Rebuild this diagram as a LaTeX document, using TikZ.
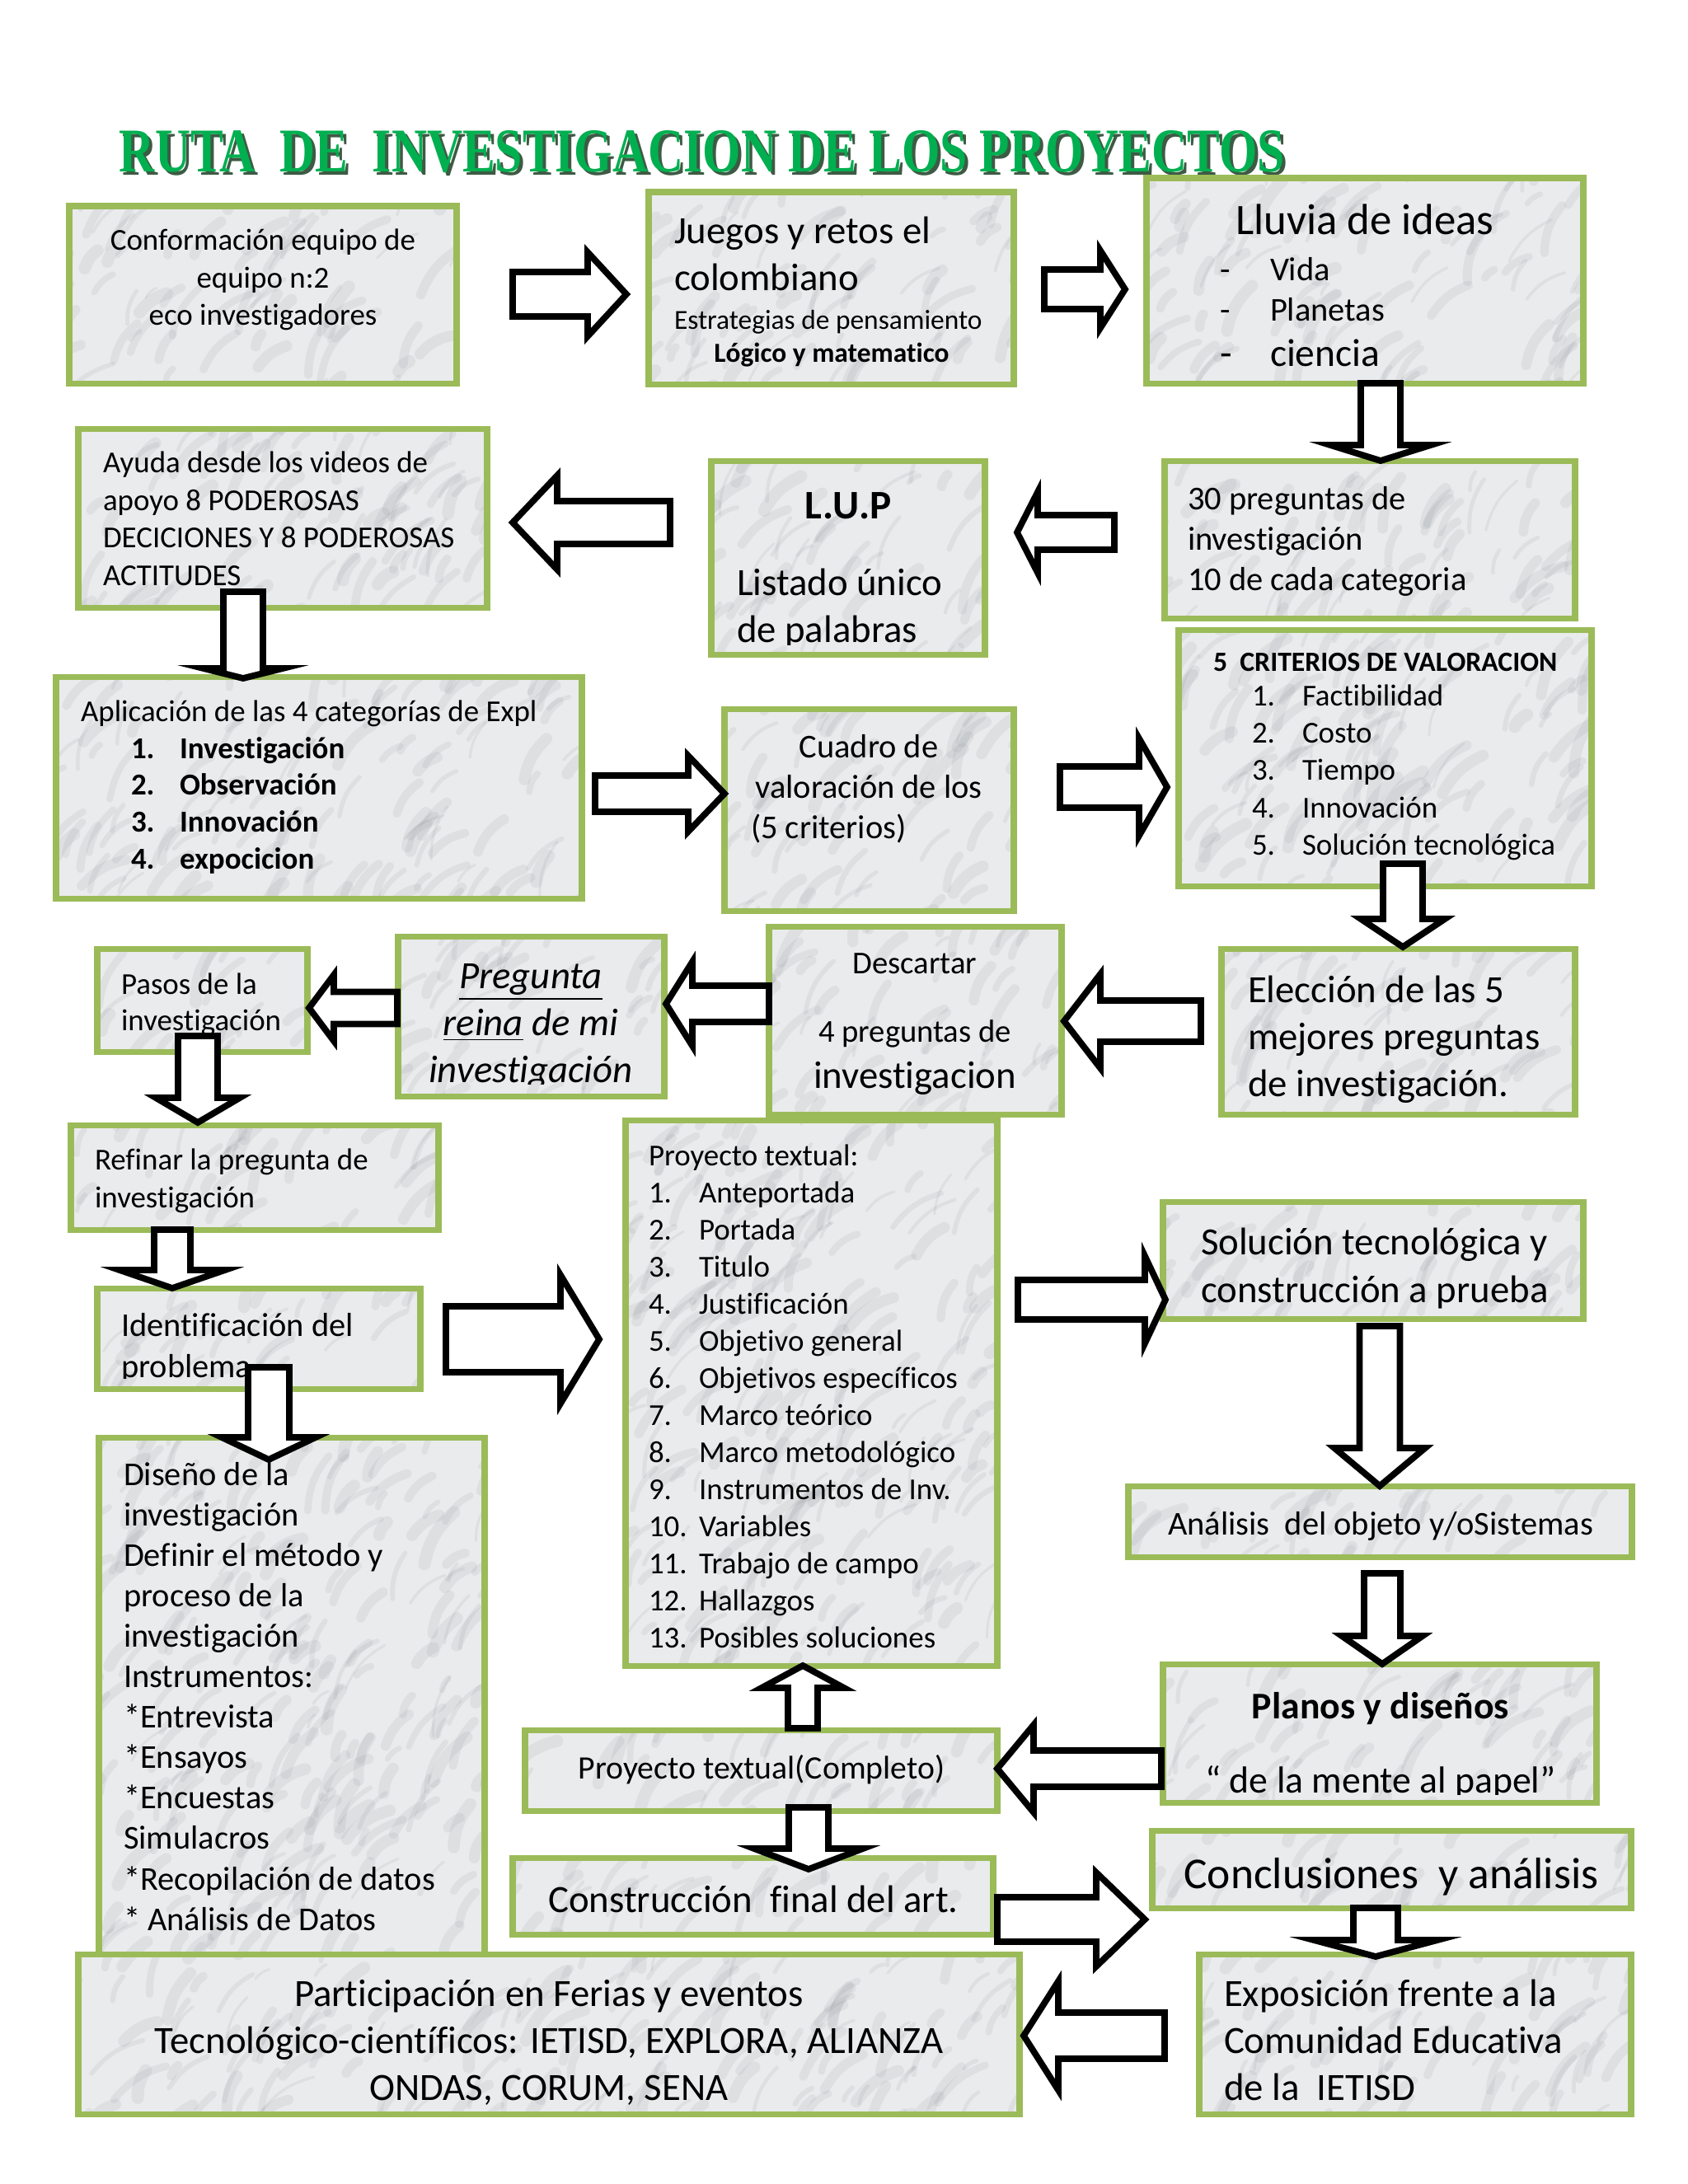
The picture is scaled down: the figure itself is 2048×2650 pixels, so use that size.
\documentclass[tikz,border=0pt]{standalone}
\usepackage{fontspec}
\usepackage{graphicx}
\setmainfont{Carlito}[Ligatures=NoCommon]
\newfontfamily\titlefont{Liberation Serif}
\usetikzlibrary{calc,fit}
\definecolor{boxgreen}{HTML}{9BBB59}
\definecolor{marblegray}{HTML}{EAEBED}
\definecolor{veingray}{HTML}{8A8F95}
\definecolor{titlegreen}{HTML}{00AF50}
\definecolor{titleshade}{HTML}{3E5A44}
\tikzset{
  box/.style={rectangle, draw=none, fill=marblegray, inner sep=0pt, outer sep=0pt},
  boxline/.style={draw=boxgreen, line width=2pt},
  vein/.style={draw=veingray, line cap=round, opacity=0.13},
  txt/.style={inner sep=0pt, outer sep=0pt, text=black},
  fs/.style 2 args={font=\fontsize{#1}{#2}\selectfont},
  fsb/.style 2 args={font=\fontsize{#1}{#2}\selectfont\bfseries},
  fsi/.style 2 args={font=\fontsize{#1}{#2}\selectfont\itshape},
  blockarrow/.style={draw=black, fill=white, line width=2.2pt, line join=miter}
}
% block arrow: tail, tip, shaft half width, head half width, head length (px)
\newcommand\barrow[5]{%
  \draw[blockarrow] let \p1=(#1), \p2=(#2),
     \n1={atan2(\y2-\y1,\x2-\x1)}, \n2={veclen(\x2-\x1,\y2-\y1)},
     \n3={\n2-#5*0.28453}, \n4={#3*0.28453}, \n5={#4*0.28453} in
    ($(\p1)+(\n1+90:\n4*1pt)$) --
    ($(\p1)+(\n1:\n3*1pt)+(\n1+90:\n4*1pt)$) --
    ($(\p1)+(\n1:\n3*1pt)+(\n1+90:\n5*1pt)$) --
    (\p2) --
    ($(\p1)+(\n1:\n3*1pt)+(\n1-90:\n5*1pt)$) --
    ($(\p1)+(\n1:\n3*1pt)+(\n1-90:\n4*1pt)$) --
    ($(\p1)+(\n1-90:\n4*1pt)$) -- cycle;}
% marble box: name, x1, y1, x2, y2 (px)
\newcommand\mybox[5]{%
  \node[box, fit={(#2,#3) (#4,#5)}] (#1) {};
  \begin{scope}
    \clip (#2,#3) rectangle (#4,#5);
    \pgfmathtruncatemacro\nstk{(#4-#2)/36*(#5-#3)/36}
    \foreach \k in {1,...,\nstk}{
      \pgfmathsetmacro\mx{#2-40+rnd*(#4-#2+40)}
      \pgfmathsetmacro\my{#3+rnd*(#5-#3+40)}
      \pgfmathsetmacro\ml{15+rnd*60}
      \pgfmathsetmacro\ma{30+rnd*45}
      \pgfmathsetmacro\mw{0.8+rnd*3.5}
      \draw[vein, line width=\mw pt] (\mx,\my) to[bend left=18] ++(-\ma:\ml);
    }
  \end{scope}
  \draw[boxline] (#2,#3) rectangle (#4,#5);}
\begin{document}
\begin{tikzpicture}[x=0.01cm,y=-0.01cm]
\pgfmathsetseed{11}
\useasboundingbox[fill=white] (0,0) rectangle (2048,2650);

% ---------- title ----------
\node[txt, anchor=base west, text=titleshade] (titleshadow) at (149,212)
  {\resizebox{14.13cm}{0.5cm}{\titlefont\bfseries RUTA\ \ DE\ \ INVESTIGACION DE LOS PROYECTOS}};
\node[txt, anchor=base west, text=titlegreen] (title) at (145,208)
  {\resizebox{14.13cm}{0.5cm}{\titlefont\bfseries RUTA\ \ DE\ \ INVESTIGACION DE LOS PROYECTOS}};

% ---------- boxes ----------
\mybox{b1}{84}{250}{554}{465}
\mybox{b2}{787}{233}{1230}{466}
\mybox{b3}{1391}{216}{1921}{465}
\mybox{b4}{95}{520}{591}{737}
\mybox{b5}{863}{559}{1195}{794}
\mybox{b6}{1413}{559}{1911}{750}
\mybox{b7}{68}{821}{706}{1090}
\mybox{b8}{879}{860}{1230}{1105}
\mybox{b9}{1430}{764}{1931}{1075}
\mybox{b10}{118}{1151}{373}{1276}
\mybox{b11}{483}{1136}{806}{1330}
\mybox{b12}{933}{1124}{1288}{1352}
\mybox{b13}{1482}{1151}{1911}{1352}
\mybox{b14}{86}{1365}{532}{1492}
\mybox{b15}{118}{1563}{510}{1685}
\mybox{b16}{759}{1359}{1210}{2021}
\mybox{b17}{1411}{1458}{1921}{1600}
\mybox{b18}{1369}{1803}{1980}{1889}
\mybox{b19}{120}{1744}{588}{2383}
\mybox{b20}{1411}{2019}{1937}{2187}
\mybox{b21}{637}{2099}{1210}{2197}
\mybox{b22}{622}{2254}{1205}{2347}
\mybox{b23}{1398}{2221}{1979}{2315}
\mybox{b24}{95}{2371}{1237}{2565}
\mybox{b25}{1455}{2371}{1979}{2565}

% ---------- texts ----------
\begin{scope}[shift={(0,5)}]
\node[txt, fs={10.5}{12.8}, align=center, anchor=base] (t1) at (319,389)
  {Conformación equipo de\\equipo n:2\\eco investigadores};

\node[txt, fs={13.3}{16.2}, align=left, anchor=base west] (t2a) at (818,347)
  {Juegos y retos el\\colombiano};
\node[txt, fs={9.5}{11.5}, anchor=base west] (t2b) at (818,394) {Estrategias de pensamiento};
\node[txt, fsb={9.5}{11.5}, anchor=base] (t2c) at (1009,434) {Lógico y matematico};

\node[txt, fs={15}{18}, anchor=base] (t3a) at (1656,279) {Lluvia de ideas};
\node[txt, fs={11.5}{14}, anchor=base west] (t3b) at (1480,335) {-};
\node[txt, fs={11.5}{14}, anchor=base west] (t3c) at (1541,335) {Vida};
\node[txt, fs={11.5}{14}, anchor=base west] (t3d) at (1480,384) {-};
\node[txt, fs={11.5}{14}, anchor=base west] (t3e) at (1541,384) {Planetas};
\node[txt, fs={13.5}{16}, anchor=base west] (t3f) at (1480,439) {-};
\node[txt, fs={13.5}{16}, anchor=base west] (t3g) at (1541,439) {ciencia};

\node[txt, fs={10.5}{12.9}, align=left, anchor=base west] (t4) at (125,705)
  {Ayuda desde los videos de\\apoyo 8 PODEROSAS\\DECICIONES Y 8 PODEROSAS\\ACTITUDES};

\node[txt, fsb={14}{17}, anchor=base] (t5a) at (1029,624) {L.U.P};
\begin{scope}
  \clip (863,559) rectangle (1195,777);
  \node[txt, fs={13.3}{16.2}, align=left, anchor=base west] (t5b) at (894,774)
    {Listado único\\de palabras};
\end{scope}

\node[txt, fs={11.5}{13.9}, align=left, anchor=base west] (t6) at (1441,711)
  {30 preguntas de\\investigación\\10 de cada categoria};

\node[txt, fs={10.5}{12.8}, anchor=base west] (t7a) at (98,870) {Aplicación de las 4 categorías de Expl};
\node[txt, fsb={10.5}{12.7}, align=left, anchor=base west] (t7n) at (159,1049) {1.\\2.\\3.\\4.};
\node[txt, fsb={10.5}{12.7}, align=left, anchor=base west] (t7i) at (218,1049)
  {Investigación\\Observación\\Innovación\\expocicion};

\node[txt, fs={11.5}{13.9}, anchor=base] (t8a) at (1054,914) {Cuadro de};
\node[txt, fs={11.5}{13.9}, anchor=base] (t8b) at (1054,963) {valoración de los};
\node[txt, fs={11.5}{13.9}, anchor=base west] (t8c) at (911,1012) {(5 criterios)};

\node[txt, fsb={9.6}{12}, anchor=base west] (t9a) at (1472,809) {5\ \ CRITERIOS DE VALORACION};
\node[txt, fs={10.5}{12.8}, align=left, anchor=base west] (t9n) at (1519,1032) {1.\\2.\\3.\\4.\\5.};
\node[txt, fs={10.5}{12.8}, align=left, anchor=base west] (t9i) at (1580,1032)
  {Factibilidad\\Costo\\Tiempo\\Innovación\\Solución tecnológica};

\node[txt, fs={10.5}{12.5}, align=left, anchor=base west] (t10) at (147,1245)
  {Pasos de la\\investigación};

\begin{scope}
  \clip (483,1136) rectangle (806,1310);
  \node[txt, fsi={13.3}{16.2}, align=center, anchor=base] (t11) at (644,1308)
    {\underline{Pregunta}\\\underline{reina} de mi\\investigación};
\end{scope}

\node[txt, fs={11}{13.5}, anchor=base] (t12a) at (1110,1176) {Descartar};
\node[txt, fs={11}{13.5}, anchor=base] (t12b) at (1110,1259) {4 preguntas de};
\node[txt, fs={13.3}{16.2}, anchor=base] (t12c) at (1110,1315) {investigacion};

\node[txt, fs={13.3}{16.2}, align=left, anchor=base west] (t13) at (1514,1325)
  {Elección de las 5\\mejores preguntas\\de investigación.};

\node[txt, fs={10.5}{13}, align=left, anchor=base west] (t14) at (115,1460)
  {Refinar la pregunta de\\investigación};

\begin{scope}
  \clip (118,1563) rectangle (510,1667);
  \node[txt, fs={11.5}{14}, align=left, anchor=base west] (t15) at (147,1666)
    {Identificación del\\problema};
\end{scope}

\node[txt, fs={10.5}{12.8}, anchor=base west] (t16a) at (787,1409) {Proyecto textual:};
\node[txt, fs={10.5}{12.78}, align=left, anchor=base west] (t16n) at (787,1994)
  {1.\\2.\\3.\\4.\\5.\\6.\\7.\\8.\\9.\\10.\\11.\\12.\\13.};
\node[txt, fs={10.5}{12.78}, align=left, anchor=base west] (t16i) at (848,1994)
  {Anteportada\\Portada\\Titulo\\Justificación\\Objetivo general\\Objetivos específicos\\Marco teórico\\Marco metodológico\\Instrumentos de Inv.\\Variables\\Trabajo de campo\\Hallazgos\\Posibles soluciones};

\node[txt, fs={13.3}{16.5}, align=left, anchor=base west] (t17) at (1457,1575)
  {Solución tecnológica y\\construcción a prueba};

\node[txt, fs={11.5}{14}, anchor=base] (t18) at (1675,1857) {Análisis\ \ del objeto y/oSistemas};

\node[txt, fs={11.5}{13.94}, align=left, anchor=base west] (t19) at (150,2337)
  {Diseño de la\\investigación\\Definir el método y\\proceso de la\\investigación\\Instrumentos:\\*Entrevista\\*Ensayos\\*Encuestas\\Simulacros\\*Recopilación de datos\\* Análisis de Datos};

\node[txt, fsb={13}{16}, anchor=base] (t20a) at (1675,2080) {Planos y diseños};
\begin{scope}
  \clip (1411,2019) rectangle (1937,2172);
  \node[txt, fs={13}{16}, anchor=base] (t20b) at (1675,2170) {“ de la mente al papel”};
\end{scope}

\node[txt, fs={11.3}{14}, anchor=base] (t21) at (924,2153) {Proyecto textual(Completo)};
\node[txt, fs={13.3}{16}, anchor=base] (t22) at (914,2315) {Construcción\ \ final del art.};
\node[txt, fs={15.2}{18}, anchor=base] (t23) at (1688,2286) {Conclusiones\ \ y análisis};

\node[txt, fs={13.3}{16.1}, align=center, anchor=base] (t24) at (666,2543)
  {Participación en Ferias y eventos\\Tecnológico-científicos: IETISD, EXPLORA, ALIANZA\\ONDAS, CORUM, SENA};
\node[txt, fs={13.3}{16.1}, align=left, anchor=base west] (t25) at (1485,2543)
  {Exposición frente a la\\Comunidad Educativa\\de la\ \ IETISD};
\end{scope}

% ---------- arrow end points ----------
\coordinate (a1s) at (622,357);   \coordinate (a1e) at (760,357);
\coordinate (a2s) at (1267,351);  \coordinate (a2e) at (1365,351);
\coordinate (a3s) at (1675,465);  \coordinate (a3e) at (1675,559);
\coordinate (a4s) at (1352,646);  \coordinate (a4e) at (1234,646);
\coordinate (a5s) at (813,634);   \coordinate (a5e) at (622,634);
\coordinate (a6s) at (295,718);   \coordinate (a6e) at (295,823);
\coordinate (a7s) at (722,963);   \coordinate (a7e) at (879,963);
\coordinate (a8s) at (1286,955);  \coordinate (a8e) at (1416,955);
\coordinate (a9s) at (1702,1048); \coordinate (a9e) at (1702,1149);
\coordinate (a10s) at (1457,1239); \coordinate (a10e) at (1291,1239);
\coordinate (a11s) at (933,1218);  \coordinate (a11e) at (808,1218);
\coordinate (a12s) at (482,1223);  \coordinate (a12e) at (375,1223);
\coordinate (a13s) at (240,1257);  \coordinate (a13e) at (240,1362);
\coordinate (a14s) at (209,1492);  \coordinate (a14e) at (209,1563);
\coordinate (a15s) at (326,1659);  \coordinate (a15e) at (326,1771);
\coordinate (a16s) at (541,1625);  \coordinate (a16e) at (727,1625);
\coordinate (a17s) at (1235,1577); \coordinate (a17e) at (1414,1577);
\coordinate (a18s) at (1674,1609); \coordinate (a18e) at (1674,1803);
\coordinate (a19s) at (1677,1909); \coordinate (a19e) at (1677,2019);
\coordinate (a20s) at (1409,2146); \coordinate (a20e) at (1210,2146);
\coordinate (a21s) at (974,2097);  \coordinate (a21e) at (974,2021);
\coordinate (a22s) at (981,2193);  \coordinate (a22e) at (981,2268);
\coordinate (a23s) at (1210,2329); \coordinate (a23e) at (1389,2329);
\coordinate (a24s) at (1669,2315); \coordinate (a24e) at (1669,2374);
\coordinate (a25s) at (1413,2470); \coordinate (a25e) at (1242,2470);

% ---------- block arrows ----------
\barrow{a1s}{a1e}{27}{51}{47}
\barrow{a2s}{a2e}{24}{47}{30}
\barrow{a3s}{a3e}{24}{61}{19}
\barrow{a4s}{a4e}{21}{49}{25}
\barrow{a5s}{a5e}{26}{57}{54}
\barrow{a6s}{a6e}{24}{48}{12}
\barrow{a7s}{a7e}{22}{46}{44}
\barrow{a8s}{a8e}{25}{59}{34}
\barrow{a9s}{a9e}{24}{51}{34}
\barrow{a10s}{a10e}{25}{57}{44}
\barrow{a11s}{a11e}{22}{51}{32}
\barrow{a12s}{a12e}{19.5}{40}{30}
\barrow{a13s}{a13e}{24}{51}{30}
\barrow{a14s}{a14e}{22}{64}{22}
\barrow{a15s}{a15e}{25}{57}{27}
\barrow{a16s}{a16e}{40}{78}{47}
\barrow{a17s}{a17e}{24}{53}{25}
\barrow{a18s}{a18e}{24.5}{55}{46}
\barrow{a19s}{a19e}{22}{49}{34}
\barrow{a20s}{a20e}{22}{53}{44}
\barrow{a21s}{a21e}{18}{50}{27}
\barrow{a22s}{a22e}{24}{66}{25}
\barrow{a23s}{a23e}{27}{57}{59}
\barrow{a24s}{a24e}{27}{75}{20}
\barrow{a25s}{a25e}{28}{66}{42}
\end{tikzpicture}
\end{document}
